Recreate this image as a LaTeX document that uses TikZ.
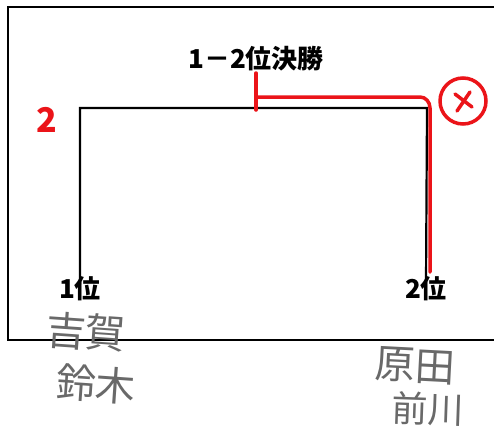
\documentclass[tikz,border=0pt]{standalone}
\usepackage{fontspec}
\newfontfamily\jp{Noto Sans CJK JP}
\definecolor{pen}{RGB}{235,20,25}
\definecolor{pencil}{RGB}{105,105,105}
\tikzset{
  lbl/.style={font=\jp\bfseries\fontsize{26}{30}\selectfont, inner sep=0pt},
  hand/.style={font=\jp\fontsize{40}{42}\selectfont, text=pencil, inner sep=0pt},
  redpen/.style={draw=pen, line width=3.5pt, line cap=round, line join=round},
  bracket/.style={draw=black, line width=2.2pt}
}
\begin{document}
\begin{tikzpicture}[x=1pt,y=-1pt]
\useasboundingbox (0,0) rectangle (494,432);
\fill[white] (0,0) rectangle (494,432);
% outer frame
\draw[line width=1.6pt] (494,7) -- (8,7) -- (8,340) -- (494,340);
% labels
\node[lbl] (final) at (256,59) {1－2位決勝};
\node[lbl] (p1) at (80,289) {1位};
\node[lbl] (p2) at (426,289) {2位};
% bracket
\coordinate (tl) at (80,108);
\coordinate (tr) at (427,108);
\draw[bracket] ([yshift=-8pt]p1.north) -- (tl) -- (tr) -- ([yshift=-6pt]p2.north);
% red marks
\coordinate (ra) at (256,73);
\coordinate (rb) at (256,110);
\coordinate (rc) at (256,97);
\coordinate (rd) at (420,97);
\coordinate (re) at (430,108);
\coordinate (rf) at (430,272);
\draw[redpen] (ra) -- (rb);
\draw[redpen] (rc) -- (rd) to[out=0,in=90] (re) -- (rf);
\node[draw=pen, line width=3.5pt, circle, minimum size=46pt, inner sep=0pt] (win) at (463,101) {};
\draw[redpen, line width=3.5pt] ([shift={(-8,-7)}]win.center) -- ([shift={(9,6)}]win.center);
\draw[redpen, line width=3.5pt] ([shift={(7,-9)}]win.center) -- ([shift={(-6,10)}]win.center);
\node[text=pen, font=\jp\bfseries\fontsize{34}{36}\selectfont, inner sep=0pt] (two) at (47,120) {2};
% handwritten names
\node[hand, rotate=-4] (n1) at (86,332) {吉賀};
\node[hand, rotate=-4] (n2) at (96,384) {鈴木};
\node[hand, rotate=-3] (n3) at (415,366) {原田};
\node[hand, font=\jp\fontsize{36}{38}\selectfont, rotate=-2] (n4) at (428,409) {前川};
\end{tikzpicture}
\end{document}
